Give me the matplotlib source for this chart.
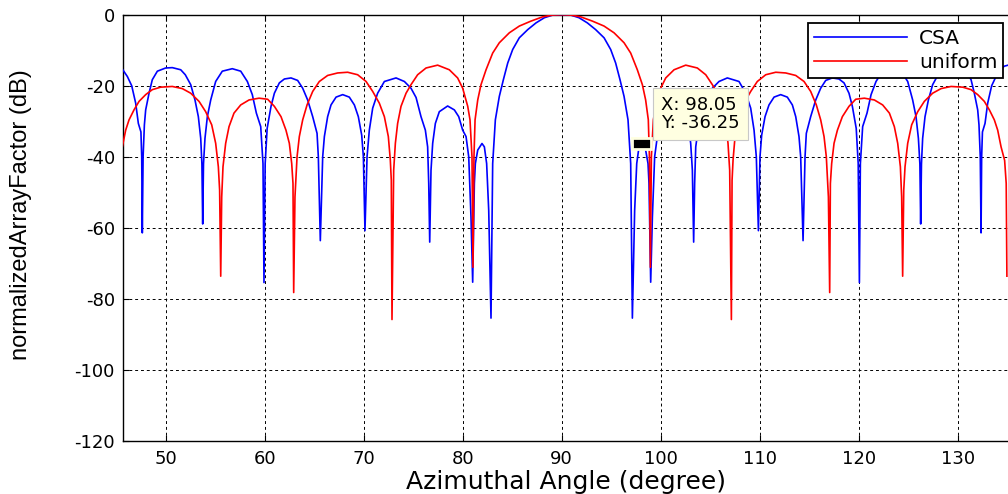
import matplotlib
matplotlib.use("Agg")
import matplotlib.pyplot as plt
import numpy as np
from matplotlib.patches import Rectangle

# ---- data (angle in degree, normalized AF in dB) ----
csa_points = [
    (45.30, -14.5), (45.62, -15.3), (46.13, -17.4), (46.57, -20.0), (46.97, -24.9),
    (47.24, -30.6), (47.50, -33.0), (47.58, -40.0), (47.64, -61.4), (47.72, -40.0),
    (47.85, -31.0), (47.98, -26.8), (48.32, -22.1), (48.65, -18.3), (49.16, -15.9),
    (50.00, -15.0), (50.67, -14.9), (51.52, -15.5), (51.98, -16.9), (52.53, -19.7),
    (52.96, -24.0), (53.30, -28.7), (53.54, -34.8), (53.66, -42.0), (53.74, -58.9),
    (53.82, -42.0), (53.97, -34.8), (54.21, -28.7), (54.55, -24.0), (55.05, -18.8),
    (55.72, -15.9), (56.73, -15.2), (57.58, -15.9), (58.25, -18.8), (58.75, -22.5),
    (59.16, -27.7), (59.60, -31.5), (59.83, -41.9), (59.93, -75.4), (60.05, -41.9),
    (60.25, -32.0), (60.64, -25.8), (60.98, -22.1), (61.48, -19.2), (61.99, -18.1),
    (62.66, -17.8), (63.33, -18.5), (63.84, -20.7), (64.34, -24.0), (64.85, -28.7),
    (65.29, -33.4), (65.42, -40.0), (65.62, -63.6), (65.86, -40.0), (66.03, -34.3),
    (66.36, -28.7), (66.70, -25.4), (67.21, -23.2), (67.88, -22.5), (68.55, -23.2),
    (69.06, -25.4), (69.46, -28.7), (69.80, -33.9), (69.97, -40.0), (70.13, -60.8),
    (70.34, -40.0), (70.57, -32.5), (70.91, -26.3), (71.41, -22.1), (72.09, -18.8),
    (73.27, -17.8), (74.11, -18.8), (74.78, -20.7), (75.29, -23.3), (75.79, -28.7),
    (76.23, -32.5), (76.46, -37.2), (76.57, -47.5), (76.67, -64.0), (76.80, -43.8),
    (76.97, -36.2), (77.24, -30.6), (77.64, -27.3), (78.48, -25.7), (79.16, -26.8),
    (79.60, -28.7), (80.00, -32.5), (80.34, -34.3), (80.61, -40.0), (80.84, -57.0),
    (81.01, -75.3), (81.18, -47.5), (81.28, -41.9), (81.52, -38.1), (81.95, -36.25),
    (82.19, -37.2), (82.42, -41.9), (82.63, -55.1), (82.86, -85.4), (83.03, -41.9),
    (83.30, -29.6), (83.70, -23.0), (84.11, -18.3), (84.55, -13.6), (85.05, -9.8),
    (85.72, -6.5), (86.57, -4.2), (87.41, -2.3), (88.25, -0.85), (89.09, -0.1),
    (90.00, 0.0),
    (90.91, -0.1), (91.75, -0.85), (92.59, -2.3), (93.43, -4.2), (94.28, -6.5),
    (94.95, -9.8), (95.45, -13.6), (95.89, -18.3), (96.30, -23.0), (96.70, -29.6),
    (96.97, -41.9), (97.14, -85.4), (97.37, -55.1), (97.58, -41.9), (97.81, -37.2),
    (98.05, -36.25), (98.48, -38.1), (98.72, -41.9), (98.82, -47.5), (98.99, -75.3),
    (99.16, -57.0), (99.39, -40.0), (99.66, -34.3), (100.00, -32.5), (100.40, -28.7),
    (100.84, -26.8), (101.52, -25.7), (102.36, -27.3), (102.76, -30.6), (103.03, -36.2),
    (103.20, -43.8), (103.33, -64.0), (103.43, -47.5), (103.54, -37.2), (103.77, -32.5),
    (104.21, -28.7), (104.71, -23.3), (105.22, -20.7), (105.89, -18.8), (106.73, -17.8),
    (107.91, -18.8), (108.59, -22.1), (109.09, -26.3), (109.43, -32.5), (109.66, -40.0),
    (109.87, -60.8), (110.03, -40.0), (110.20, -33.9), (110.54, -28.7), (110.94, -25.4),
    (111.45, -23.2), (112.12, -22.5), (112.79, -23.2), (113.30, -25.4), (113.64, -28.7),
    (113.97, -34.3), (114.14, -40.0), (114.38, -63.6), (114.58, -40.0), (114.71, -33.4),
    (115.15, -28.7), (115.66, -24.0), (116.16, -20.7), (116.67, -18.5), (117.34, -17.8),
    (118.01, -18.1), (118.52, -19.2), (119.02, -22.1), (119.36, -25.8), (119.75, -32.0),
    (119.95, -41.9), (120.07, -75.4), (120.17, -41.9), (120.40, -31.5), (120.84, -27.7),
    (121.25, -22.5), (121.75, -18.8), (122.42, -15.9), (123.27, -15.2), (124.28, -15.9),
    (124.95, -18.8), (125.45, -24.0), (125.79, -28.7), (126.03, -34.8), (126.18, -42.0),
    (126.26, -58.9), (126.34, -42.0), (126.46, -34.8), (126.70, -28.7), (127.04, -24.0),
    (127.47, -19.7), (128.02, -16.9), (128.48, -15.5), (129.33, -14.9), (130.00, -15.0),
    (130.84, -15.9), (131.35, -18.3), (131.68, -22.1), (132.02, -26.8), (132.15, -31.0),
    (132.28, -40.0), (132.36, -61.4), (132.42, -40.0), (132.50, -33.0), (132.76, -30.6),
    (133.03, -24.9), (133.43, -20.0), (133.87, -17.4), (134.38, -15.3), (134.70, -14.5),
    (135.10, -14.2),
]

uniform_points = [
    (45.03, -73.6), (45.10, -47.5), (45.26, -41.0), (45.62, -37.2), (45.96, -32.5),
    (46.30, -29.6), (46.80, -26.8), (47.31, -24.4), (47.98, -22.5), (48.65, -21.1),
    (49.49, -20.4), (50.67, -20.2), (51.68, -20.8), (52.53, -22.1), (53.37, -24.4),
    (54.04, -27.3), (54.65, -31.0), (55.05, -36.2), (55.32, -42.8), (55.45, -49.4),
    (55.56, -73.6), (55.66, -51.3), (55.79, -42.8), (56.06, -36.2), (56.40, -31.5),
    (56.90, -27.7), (57.58, -25.4), (58.42, -24.0), (59.43, -23.5), (60.30, -23.8),
    (60.98, -25.8), (61.65, -28.7), (62.15, -32.5), (62.49, -36.2), (62.73, -41.9),
    (62.86, -47.5), (62.93, -78.2), (63.06, -51.3), (63.27, -40.0), (63.50, -34.3),
    (63.84, -29.6), (64.28, -25.4), (64.85, -21.6), (65.52, -18.8), (66.36, -17.1),
    (67.37, -16.4), (68.38, -16.2), (69.39, -16.9), (70.24, -18.8), (70.91, -21.6),
    (71.58, -24.9), (72.09, -28.7), (72.49, -34.3), (72.69, -40.9), (72.79, -46.6),
    (72.86, -85.8), (73.03, -43.8), (73.20, -36.2), (73.43, -30.6), (73.77, -25.8),
    (74.28, -22.1), (74.78, -19.7), (75.45, -16.9), (76.30, -15.0), (77.47, -14.2),
    (78.65, -15.5), (79.49, -17.8), (80.00, -20.7), (80.51, -25.8), (80.74, -29.6),
    (80.94, -40.0), (81.04, -71.1), (81.14, -40.0), (81.25, -29.6), (81.52, -24.0),
    (81.85, -19.7), (82.36, -15.5), (83.03, -10.8), (83.70, -7.9), (84.71, -5.1),
    (85.72, -3.2), (86.90, -1.8), (88.08, -0.6), (89.09, -0.1), (90.00, 0.0),
    (90.91, -0.1), (91.92, -0.6), (93.10, -1.8), (94.28, -3.2), (95.29, -5.1),
    (96.30, -7.9), (96.97, -10.8), (97.64, -15.5), (98.15, -19.7), (98.48, -24.0),
    (98.75, -29.6), (98.86, -40.0), (98.96, -71.1), (99.06, -40.0), (99.26, -29.6),
    (99.49, -25.8), (100.00, -20.7), (100.51, -17.8), (101.35, -15.5), (102.53, -14.2),
    (103.70, -15.0), (104.55, -16.9), (105.22, -19.7), (105.72, -22.1), (106.23, -25.8),
    (106.57, -30.6), (106.80, -36.2), (106.97, -43.8), (107.14, -85.8), (107.21, -46.6),
    (107.31, -40.9), (107.51, -34.3), (107.91, -28.7), (108.42, -24.9), (109.09, -21.6),
    (109.76, -18.8), (110.61, -16.9), (111.62, -16.2), (112.63, -16.4), (113.64, -17.1),
    (114.48, -18.8), (115.15, -21.6), (115.72, -25.4), (116.16, -29.6), (116.50, -34.3),
    (116.73, -40.0), (116.94, -51.3), (117.07, -78.2), (117.14, -47.5), (117.27, -41.9),
    (117.51, -36.2), (117.85, -32.5), (118.35, -28.7), (119.02, -25.8), (119.70, -23.8),
    (120.57, -23.5), (121.58, -24.0), (122.42, -25.4), (123.10, -27.7), (123.60, -31.5),
    (123.94, -36.2), (124.21, -42.8), (124.34, -51.3), (124.44, -73.6), (124.55, -49.4),
    (124.68, -42.8), (124.95, -36.2), (125.35, -31.0), (125.96, -27.3), (126.63, -24.4),
    (127.47, -22.1), (128.32, -20.8), (129.33, -20.2), (130.51, -20.4), (131.35, -21.1),
    (132.02, -22.5), (132.69, -24.4), (133.20, -26.8), (133.70, -29.6), (134.04, -32.5),
    (134.38, -37.2), (134.74, -41.0), (134.90, -47.5), (134.97, -73.6),
]

series_labels = ["CSA", "uniform"]
datatip_x = 98.05
datatip_y = -36.25
x_ticks = [50, 60, 70, 80, 90, 100, 110, 120, 130]
y_ticks = [0, -20, -40, -60, -80, -100, -120]

csa_angle = np.array([p[0] for p in csa_points])
csa_db = np.array([p[1] for p in csa_points])
uni_angle = np.array([p[0] for p in uniform_points])
uni_db = np.array([p[1] for p in uniform_points])

plt.rcParams["font.family"] = ["DejaVu Sans"]
plt.rcParams["axes.unicode_minus"] = False

W, H = 1008, 494
fig = plt.figure(figsize=(W / 100, H / 100), dpi=100)
ax_left_px, ax_right_px = 123.3, 1017.1
ax_top_px, ax_bot_px = 14.7, 441.0
ax = fig.add_axes([ax_left_px / W, (H - ax_bot_px) / H,
                   (ax_right_px - ax_left_px) / W, (ax_bot_px - ax_top_px) / H])

ax.plot(csa_angle, csa_db, color="#0000FF", lw=1.2, label=series_labels[0], zorder=3)
ax.plot(uni_angle, uni_db, color="#FF0000", lw=1.2, label=series_labels[1], zorder=4)

ax.set_xlim(45.72, 136.0)
ax.set_ylim(-120, 0)
ax.set_xticks(x_ticks)
ax.set_yticks(y_ticks)
ax.tick_params(direction="in", length=4, width=0.8, labelsize=13,
               top=True, right=True, colors="black")
ax.tick_params(axis="x", pad=6.8)
ax.tick_params(axis="y", pad=6)
ax.set_axisbelow(True)
ax.grid(True, color="black", linestyle=(0, (3, 3)), linewidth=0.7)
for s in ax.spines.values():
    s.set_linewidth(1.0)
    s.set_color("black")

ax.set_xlabel("Azimuthal Angle (degree)", fontsize=18)
ax.xaxis.set_label_coords(0.495, -0.068)
ax.set_ylabel("normalizedArrayFactor (dB)", fontsize=17,
              family=["Liberation Sans", "DejaVu Sans"])
ax.yaxis.set_label_coords(-0.102, 0.53)

leg = ax.legend(loc="upper right", bbox_to_anchor=(0.9846, 0.9798),
                borderaxespad=0, fontsize=14.5, handlelength=4.6,
                handletextpad=0.6, labelspacing=0.25, borderpad=0.3,
                fancybox=False, framealpha=1, edgecolor="black")
leg.get_frame().set_linewidth(1.3)

# data tip marker and box
mw, mh = 1.9, 3.0
ax.add_patch(Rectangle((datatip_x - mw / 2, datatip_y - mh / 2), mw, mh,
                       facecolor="black", edgecolor="#FFFFE1", lw=2.0, zorder=6))
ax.annotate(f"X: {datatip_x:.2f}\nY: {datatip_y:.2f}", xy=(datatip_x, datatip_y),
            xytext=(14, 8), textcoords="offset points", ha="left", va="bottom",
            fontsize=13, linespacing=1.05, zorder=7,
            bbox=dict(boxstyle="square,pad=0.45", facecolor="#FFFFE1",
                      edgecolor="#C8C8C8", lw=0.8))

fig.savefig("out.png", dpi=100)
